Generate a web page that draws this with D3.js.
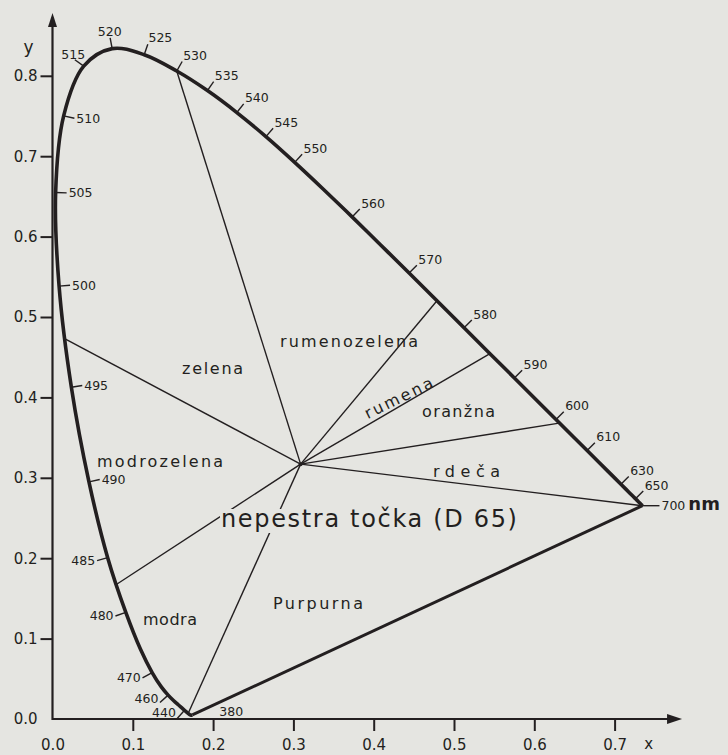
<!DOCTYPE html>
<html><head><meta charset="utf-8">
<script src="https://cdn.jsdelivr.net/npm/d3@7/dist/d3.min.js"></script>
<style>html,body{margin:0;padding:0;background:#e5e5e1;} svg{display:block;}</style>
</head><body>
<svg id="c" width="728" height="755"></svg>
<script>
// ---- DATA (CIE 1931 spectral locus as drawn) ----
const wavelengths = [380,390,400,410,420,430,440,445,450,455,460,465,470,475,480,485,490,495,500,505,510,515,520,525,530,535,540,545,550,555,560,565,570,575,580,585,590,595,600,605,610,615,620,625,630,635,640,645,650,660,670,680,690,700];
const locusX = [0.1741,0.1738,0.1733,0.1726,0.1714,0.1689,0.1644,0.1611,0.1566,0.1510,0.1440,0.1355,0.1241,0.1096,0.0913,0.0687,0.0454,0.0235,0.0082,0.0039,0.0139,0.0389,0.0743,0.1142,0.1547,0.1929,0.2296,0.2658,0.3016,0.3373,0.3731,0.4087,0.4441,0.4788,0.5125,0.5448,0.5752,0.6029,0.6270,0.6482,0.6658,0.6801,0.6915,0.7006,0.7079,0.7140,0.7190,0.7230,0.7260,0.7300,0.7320,0.7334,0.7344,0.7347];
const locusY = [0.0050,0.0049,0.0048,0.0048,0.0051,0.0069,0.0109,0.0138,0.0177,0.0227,0.0297,0.0399,0.0578,0.0868,0.1327,0.2007,0.2950,0.4127,0.5384,0.6548,0.7502,0.8120,0.8338,0.8262,0.8059,0.7816,0.7543,0.7243,0.6923,0.6589,0.6245,0.5896,0.5547,0.5202,0.4866,0.4544,0.4242,0.3965,0.3725,0.3514,0.3340,0.3197,0.3083,0.2993,0.2920,0.2859,0.2809,0.2770,0.2740,0.2700,0.2680,0.2666,0.2656,0.2653];
const labeledWl = [380,440,460,470,480,485,490,495,500,505,510,515,520,525,530,535,540,545,550,560,570,580,590,600,610,630,650,700];
const innerWl = [490,495,500,505,510];
const whitePoint = [0.309, 0.317];
const boundaryX = [0.1689,0.079,0.0162,0.1547,0.4788,0.5448,0.631,0.7347];
const boundaryY = [0.0069,0.167,0.4726,0.8059,0.5202,0.4544,0.368,0.2653];
const regionNames = ["zelena","modrozelena","modra","Purpurna","rumenozelena","rumena","oranžna","rdeča"];
const regionX = [0.1993,0.1339,0.1463,0.3306,0.3692,0.434,0.5056,0.5156];
const regionY = [0.4291,0.3134,0.1169,0.1368,0.4627,0.393,0.3756,0.301];
const whiteLabel = "nepestra točka (D 65)";
const xTicks = [0.0,0.1,0.2,0.3,0.4,0.5,0.6,0.7];
const yTicks = [0.0,0.1,0.2,0.3,0.4,0.5,0.6,0.7,0.8];

// ---- STYLE ----
const INK = "#231f20", PAPER = "#e5e5e1";
const FONT = "DejaVu Sans, Liberation Sans, sans-serif";
const regionWidths = {"zelena":61,"modrozelena":126,"modra":54,"Purpurna":90,"rumenozelena":138,"rumena":74,"oranžna":73,"rdeča":67};

const svg = d3.select("#c");
svg.append("rect").attr("width",728).attr("height",755).attr("fill",PAPER);

const x = d3.scaleLinear().domain([0,0.8]).range([52.5, 52.5+642.4]);
const y = d3.scaleLinear().domain([0,0.9]).range([719, 719-723.6]);

const W = [x(whitePoint[0]), y(whitePoint[1])];

// boundary lines from white point
const gB = svg.append("g");
boundaryX.forEach((bx,i)=>{
  gB.append("line").attr("x1",W[0]).attr("y1",W[1])
    .attr("x2",x(bx)).attr("y2",y(boundaryY[i]))
    .attr("stroke",INK).attr("stroke-width",1.4);
});

// white label with paper mask
const wl = svg.append("g");
const wlText = wl.append("text").attr("x",x(0.3941)).attr("y",y(0.2388))
  .attr("text-anchor","middle").attr("font-family",FONT).attr("font-size",24)
  .attr("fill",INK).attr("textLength",296).attr("lengthAdjust","spacing").text(whiteLabel);
const bb = wlText.node().getBBox();
wl.insert("rect","text").attr("x",bb.x-1).attr("y",bb.y+4).attr("width",bb.width+2).attr("height",bb.height-4).attr("fill",PAPER);

svg.append("circle").attr("cx",W[0]).attr("cy",W[1]).attr("r",2).attr("fill",INK);

// purple line
const i380 = wavelengths.indexOf(380), i700 = wavelengths.indexOf(700);
svg.append("line").attr("x1",x(locusX[i380])).attr("y1",y(locusY[i380]))
  .attr("x2",x(locusX[i700])).attr("y2",y(locusY[i700]))
  .attr("stroke",INK).attr("stroke-width",3);

// spectral locus
const pts = wavelengths.map((w,i)=>[locusX[i],locusY[i]]);
svg.append("path").attr("d", d3.line().x(d=>x(d[0])).y(d=>y(d[1])).curve(d3.curveCatmullRom.alpha(0.5))(pts))
  .attr("fill","none").attr("stroke",INK).attr("stroke-width",3.6).attr("stroke-linejoin","round");

// axes
const xAxis = d3.axisBottom(x).tickValues(xTicks).tickSize(12).tickPadding(8).tickFormat(d3.format(".1f"));
const gx = svg.append("g").attr("transform",`translate(0,${y(0)})`).call(xAxis);
gx.select(".domain").remove();
gx.selectAll(".tick line").attr("stroke",INK).attr("stroke-width",2).filter(d=>d===0).remove();
gx.selectAll("text").attr("font-family",FONT).attr("font-size",15).attr("fill",INK);

const yAxis = d3.axisLeft(y).tickValues(yTicks).tickSize(12).tickPadding(3).tickFormat(d3.format(".1f"));
const gy = svg.append("g").attr("transform",`translate(${x(0)},0)`).call(yAxis);
gy.select(".domain").remove();
gy.selectAll(".tick line").attr("stroke",INK).attr("stroke-width",2).filter(d=>d===0).remove();
gy.selectAll("text").attr("font-family",FONT).attr("font-size",15).attr("fill",INK);

const xEnd = x(0.784), yEnd = y(0.878);
svg.append("line").attr("x1",x(0)).attr("y1",y(0)).attr("x2",xEnd-10).attr("y2",y(0)).attr("stroke",INK).attr("stroke-width",2.2);
svg.append("line").attr("x1",x(0)).attr("y1",y(0)+1).attr("x2",x(0)).attr("y2",yEnd+10).attr("stroke",INK).attr("stroke-width",2.2);
svg.append("path").attr("d",`M${xEnd},${y(0)} L${xEnd-15},${y(0)-5} L${xEnd-15},${y(0)+5} Z`).attr("fill",INK);
svg.append("path").attr("d",`M${x(0)},${yEnd} L${x(0)-4.5},${yEnd+14} L${x(0)+4.5},${yEnd+14} Z`).attr("fill",INK);
svg.append("text").attr("x",x(0)-29).attr("y",y(0.828)).attr("font-family",FONT).attr("font-size",17).attr("fill",INK).text("y");
svg.append("text").attr("x",x(0.737)).attr("y",y(0)+30).attr("font-family",FONT).attr("font-size",15).attr("fill",INK).text("x");

// wavelength ticks & labels
const gW = svg.append("g").attr("font-family",FONT).attr("font-size",12.5).attr("fill",INK);
const TL = 11, GAP = 2;
labeledWl.forEach(w=>{
  const i = wavelengths.indexOf(w);
  const p = [x(locusX[i]), y(locusY[i])];
  if (w === 380) {
    gW.append("text").attr("x",p[0]+27).attr("y",p[1]-3).attr("dy","0.35em").text(w);
    return;
  }
  let n, tl = TL;
  if (w === 700) { n = [1,0]; tl = TL + 6; }
  else {
    const a = [x(locusX[i-1]), y(locusY[i-1])], b = [x(locusX[i+1]), y(locusY[i+1])];
    let tx = b[0]-a[0], ty = b[1]-a[1]; const L = Math.hypot(tx,ty); tx/=L; ty/=L;
    n = [-ty, tx];
    if (n[0]*(p[0]-W[0]) + n[1]*(p[1]-W[1]) < 0) n = [-n[0],-n[1]];
    if (innerWl.includes(w)) n = [-n[0],-n[1]];
  }
  const e = [p[0]+n[0]*tl, p[1]+n[1]*tl];
  const q = [e[0]+n[0]*GAP, e[1]+n[1]*GAP];
  gW.append("line").attr("x1",p[0]).attr("y1",p[1]).attr("x2",e[0]).attr("y2",e[1]).attr("stroke",INK).attr("stroke-width",1.4);
  const t = gW.append("text");
  if (n[1] < -0.3) {
    t.attr("text-anchor", n[0] > 0.3 ? "start" : (n[0] < -0.9 ? "end" : "middle"))
     .attr("x",q[0]).attr("y",q[1]);
  } else {
    // side labels: vertically centred on the tick end, kept clear of the x axis
    t.attr("text-anchor", n[0] >= 0 ? "start" : "end").attr("x",q[0])
     .attr("y",Math.min(e[1] - (n[1] > 0.6 ? 4 : 0), y(0)-6)).attr("dy","0.35em");
  }
  t.text(w);
  if (w === 700) {
    t.append("tspan").attr("font-weight","bold").attr("font-size",18).attr("dx",3).text("nm");
  }
});

// region labels
const gR = svg.append("g").attr("font-family",FONT).attr("font-size",16).attr("fill",INK);
regionNames.forEach((name,i)=>{
  const px = x(regionX[i]), py = y(regionY[i]);
  const t = gR.append("text").attr("x",px).attr("y",py).attr("text-anchor","middle")
    .attr("textLength",regionWidths[name]).attr("lengthAdjust","spacing").text(name);
  if (name === "rumena") t.attr("transform",`rotate(-26,${px},${py})`);
});
</script>
</body></html>
